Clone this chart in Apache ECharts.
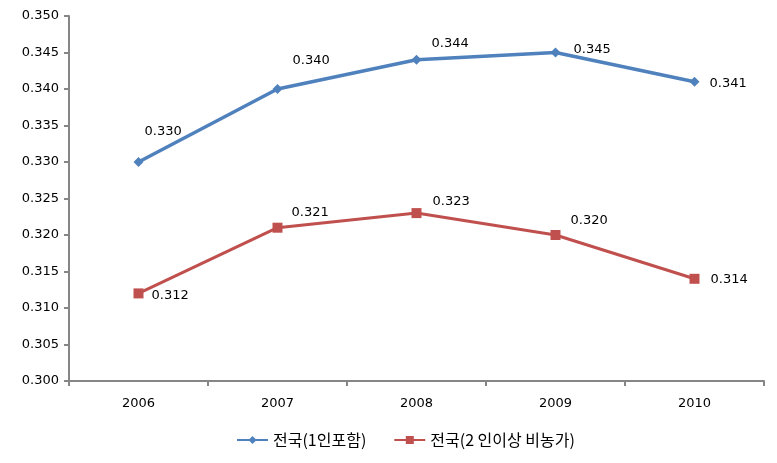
<!DOCTYPE html>
<html><head><meta charset="utf-8">
<script src="https://cdn.jsdelivr.net/npm/echarts@6/dist/echarts.min.js"></script>
<style>html,body{margin:0;padding:0;background:#fff}#c{width:777px;height:463px}</style>
</head><body><div id="c"></div>
<script>
const categories = ['2006', '2007', '2008', '2009', '2010'];
const seriesNames = ['전국(1인포함)', '전국(2 인이상 비농가)'];
const nationalAll = [0.330, 0.340, 0.344, 0.345, 0.341];
const nationalNonFarm = [0.312, 0.321, 0.323, 0.320, 0.314];
// label offsets (dx of label left edge from point, dy of label centre)
const offsAll = [[6,-30],[15,-28],[15,-16],[18,-3],[15,2]];
const offsNonFarm = [[13,2],[14,-15],[16,-11],[15,-14],[16,1]];

const FONT = 'DejaVu Sans';
function mk(vals, offs, half) {
  return vals.map((v, i) => ({
    value: v,
    label: { offset: [offs[i][0] - half, offs[i][1]] }
  }));
}
const chart = echarts.init(document.getElementById('c'));
chart.setOption({
  animation: false,
  grid: { left: 69, top: 16, right: 13, bottom: 82 },
  legend: {
    bottom: 10, left: 231, itemWidth: 31, itemHeight: 10, itemGap: 27,
    textStyle: { fontFamily: 'Noto Sans CJK KR', fontSize: 16, color: '#000' },
    data: seriesNames
  },
  xAxis: {
    type: 'category', data: categories, boundaryGap: true,
    axisLine: { lineStyle: { color: '#868686', width: 2 } },
    axisTick: { show: true, length: 5, lineStyle: { color: '#868686', width: 2 } },
    axisLabel: { color: '#000', fontFamily: FONT, fontSize: 13, margin: 16 }
  },
  yAxis: {
    type: 'value', min: 0.3, max: 0.35, interval: 0.005,
    axisLine: { show: true, lineStyle: { color: '#868686', width: 2 } },
    axisTick: { show: true, length: 5, lineStyle: { color: '#868686', width: 2 } },
    splitLine: { show: false },
    axisLabel: { color: '#000', fontFamily: FONT, fontSize: 13, margin: 10,
      formatter: v => v.toFixed(3) }
  },
  series: [
    {
      name: seriesNames[0], type: 'line', data: mk(nationalAll, offsAll, 5),
      symbol: 'diamond', symbolSize: 10,
      lineStyle: { color: '#4F81BD', width: 3.5 },
      itemStyle: { color: '#4F81BD' },
      label: { show: true, position: 'right', distance: 0, color: '#000',
        fontFamily: FONT, fontSize: 13, formatter: p => p.value.toFixed(3) }
    },
    {
      name: seriesNames[1], type: 'line', data: mk(nationalNonFarm, offsNonFarm, 5),
      symbol: 'rect', symbolSize: 10,
      lineStyle: { color: '#C0504D', width: 3 },
      itemStyle: { color: '#C0504D' },
      label: { show: true, position: 'right', distance: 0, color: '#000',
        fontFamily: FONT, fontSize: 13, formatter: p => p.value.toFixed(3) }
    }
  ]
});
</script></body></html>
